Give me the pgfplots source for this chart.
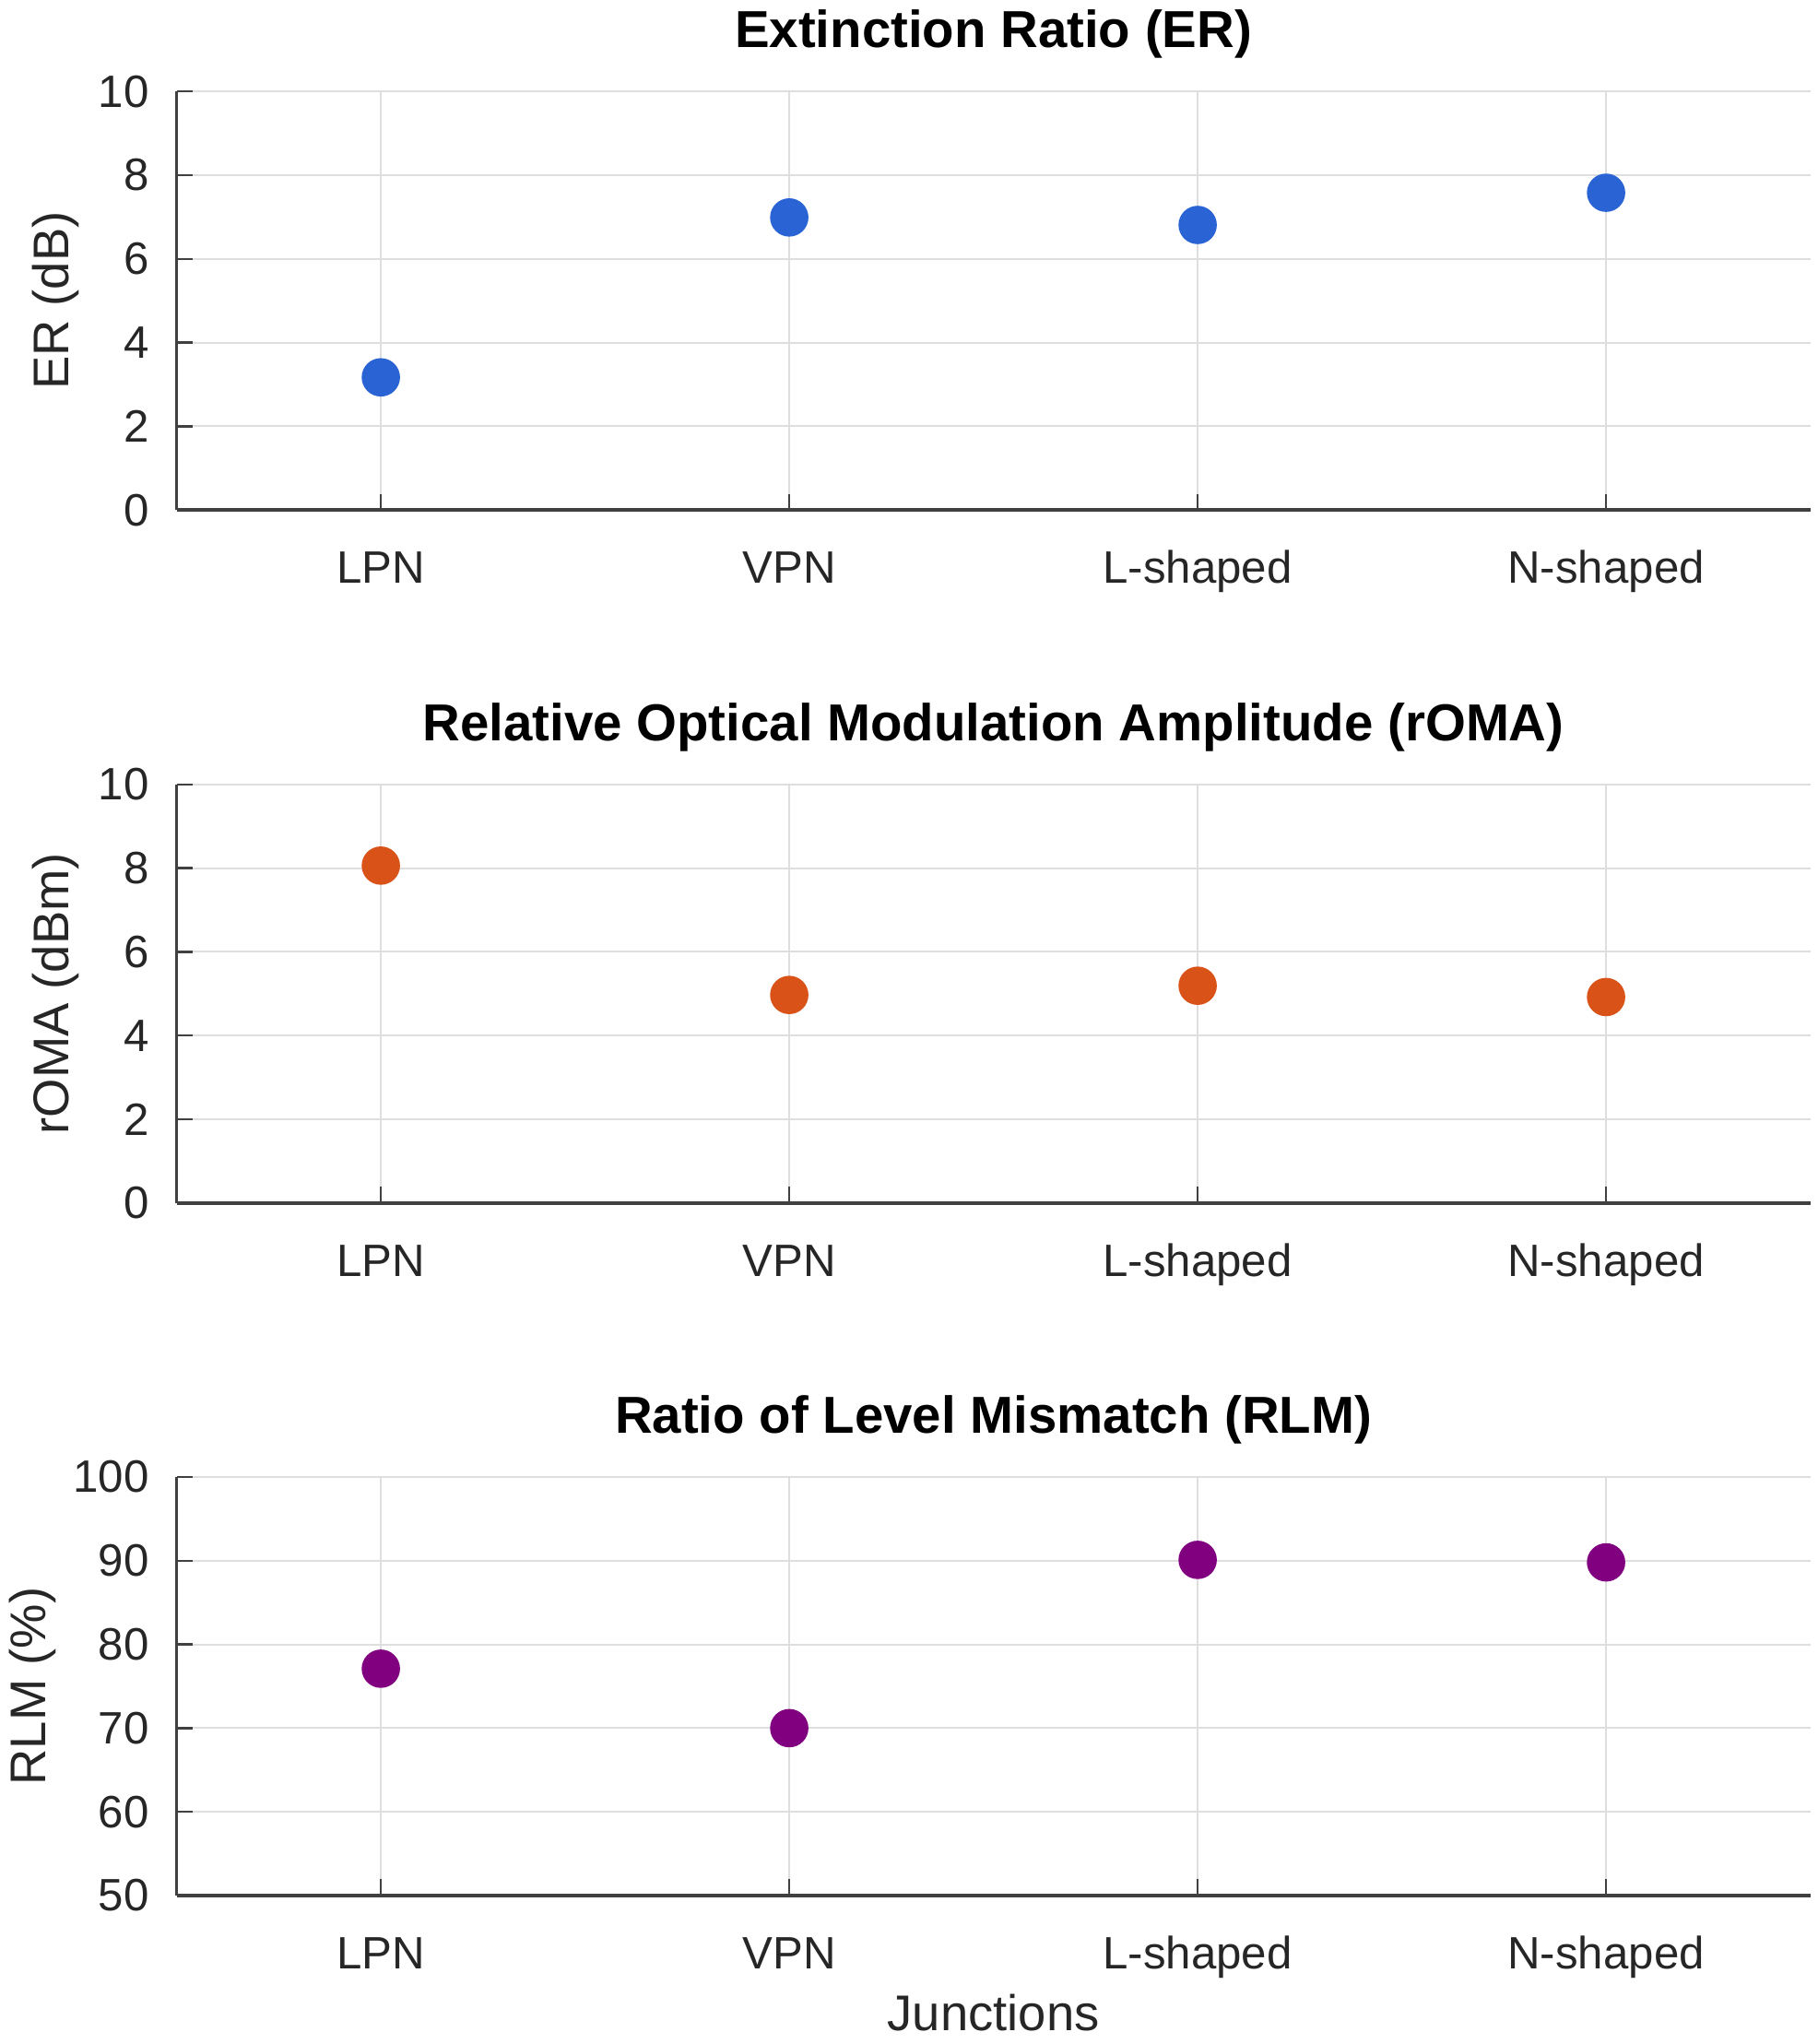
\documentclass[border=0pt]{standalone}
\usepackage{fontspec}
\setmainfont{Liberation Sans}
\usepackage{pgfplots}
\pgfplotsset{compat=1.18}
\definecolor{erblue}{RGB}{42,100,212}
\definecolor{romaorange}{RGB}{217,83,25}
\definecolor{rlmpurple}{RGB}{128,0,128}
\definecolor{axisgray}{RGB}{64,64,64}
\definecolor{gridgray}{RGB}{222,222,222}
\definecolor{labelgray}{RGB}{38,38,38}
\pgfplotsset{
  every axis title shift=0pt,
  myaxis/.style={
    scale only axis, width=443pt, height=113.5pt,
    xmin=-0.5, xmax=3.5,
    xtick={0,1,2,3}, xticklabels={LPN,VPN,L-shaped,N-shaped},
    axis x line=bottom, axis y line=left,
    axis line style={-, draw=axisgray, line width=0.9pt},
    tick align=inside, major tick length=4.4pt,
    tick style={draw=axisgray, line width=0.6pt},
    grid=major, major grid style={draw=gridgray, line width=0.5pt},
    ticklabel style={font=\fontsize{12.3}{14}\selectfont, text=labelgray},
    xticklabel style={anchor=base, yshift=-19.9pt},
    yticklabel style={anchor=east, xshift=-4pt},
    /pgf/number format/assume math mode=true,
    title style={font=\fontsize{14.1}{16}\selectfont\bfseries, text=black, at={(0.5,1)}, anchor=base, yshift=11.8pt},
    label style={font=\fontsize{13.6}{16}\selectfont, text=labelgray},
    ylabel style={at={(axis description cs:-0.0743,0.5)}, anchor=center},
  }
}
\begin{document}
\begin{tikzpicture}
\path[use as bounding box] (0,0) rectangle (492.75pt,554.25pt);
\begin{axis}[myaxis, at={(47.9pt,415.95pt)}, anchor=south west,
  ymin=0, ymax=10, ytick={0,2,...,10},
  title={Extinction Ratio (ER)}, ylabel={ER (dB)}]
\addplot[only marks, mark=*, mark size=5pt, color=erblue] coordinates {(0,3.17) (1,6.99) (2,6.81) (3,7.58)};
\end{axis}
\begin{axis}[myaxis, at={(47.9pt,228.05pt)}, anchor=south west,
  ymin=0, ymax=10, ytick={0,2,...,10},
  title={Relative Optical Modulation Amplitude (rOMA)}, ylabel={rOMA (dBm)}]
\addplot[only marks, mark=*, mark size=5pt, color=romaorange] coordinates {(0,8.06) (1,4.97) (2,5.19) (3,4.92)};
\end{axis}
\begin{axis}[myaxis, at={(47.9pt,40.25pt)}, anchor=south west,
  ymin=50, ymax=100, ytick={50,60,...,100},
  title={Ratio of Level Mismatch (RLM)}, ylabel={RLM (\%)},
  ylabel style={at={(axis description cs:-0.088,0.5)}, anchor=center},
  xlabel={Junctions},
  xlabel style={at={(axis description cs:0.5,0)}, anchor=base, yshift=-36.6pt}]
\addplot[only marks, mark=*, mark size=5pt, color=rlmpurple] coordinates {(0,77.1) (1,70.0) (2,90.1) (3,89.8)};
\end{axis}
\end{tikzpicture}
\end{document}
